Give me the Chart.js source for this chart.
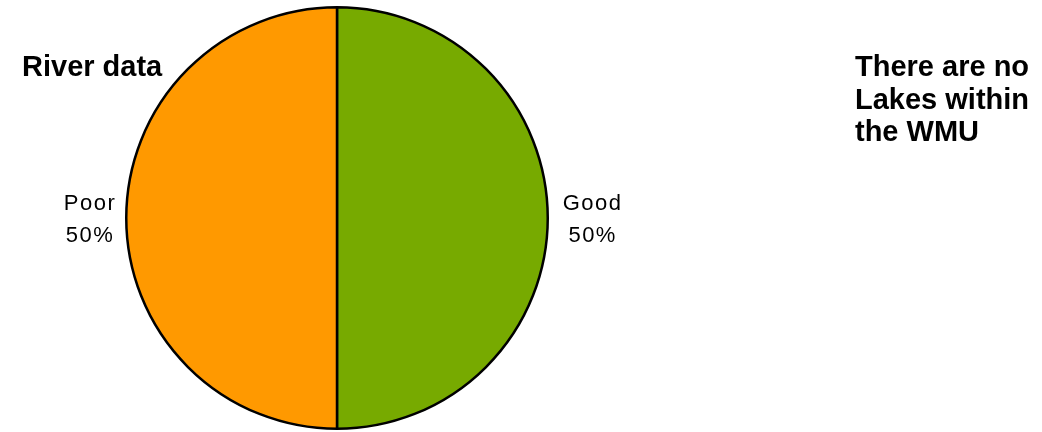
<!DOCTYPE html>
<html lang="en">
<head>
  <meta charset="UTF-8">
  <title>River data</title>
  <script src="https://cdn.jsdelivr.net/npm/chart.js"></script>
  <style>
    body {
      margin: 0;
      padding: 0;
      background: #ffffff;
      font-family: Arial, "Liberation Sans", sans-serif;
    }
    #wrap {
      position: relative;
      width: 1042px;
      height: 432px;
      overflow: hidden;
    }
    #pie {
      position: absolute;
      left: 0;
      top: 0;
    }
    .note {
      position: absolute;
      font-weight: bold;
      font-size: 29px;
      line-height: 32.5px;
      color: #000;
    }
    #title { left: 22px; top: 50px; }
    #lakes { left: 855px; top: 50px; }
  </style>
</head>
<body>
  <div id="wrap">
    <canvas id="pie" width="1042" height="432"></canvas>
    <div id="title" class="note">River data</div>
    <div id="lakes" class="note">There are no<br>Lakes within<br>the WMU</div>
  </div>

  <script>
    // chart data
    const categories = ['Good', 'Poor'];
    const shares = [50, 50];
    const sliceColors = ['#77AA00', '#FF9900'];

    // draws "Name / 50%" next to each slice, like the spreadsheet labels
    const sideLabels = {
      id: 'sideLabels',
      afterDatasetsDraw(chart) {
        const ctx = chart.ctx;
        const arcs = chart.getDatasetMeta(0).data;
        const total = shares.reduce((a, b) => a + b, 0);
        ctx.save();
        ctx.font = '22px Arial, "Liberation Sans", sans-serif';
        ctx.letterSpacing = '1.5px';
        ctx.fillStyle = '#000';
        ctx.textAlign = 'center';
        ctx.textBaseline = 'alphabetic';
        arcs.forEach((arc, i) => {
          const mid = (arc.startAngle + arc.endAngle) / 2;
          const lines = [categories[i], Math.round(shares[i] / total * 100) + '%'];
          const w = Math.max(...lines.map(t => ctx.measureText(t).width));
          const right = Math.cos(mid) >= 0;
          const gap = right ? 15 : 10;
          const cx = arc.x + Math.cos(mid) * (arc.outerRadius + gap + w / 2);
          const cy = arc.y + Math.sin(mid) * (arc.outerRadius + gap);
          ctx.fillText(lines[0], cx, cy - 8);
          ctx.fillText(lines[1], cx, cy + 24);
        });
        ctx.restore();
      }
    };

    new Chart(document.getElementById('pie'), {
      type: 'pie',
      data: {
        labels: categories,
        datasets: [{
          data: shares,
          backgroundColor: sliceColors,
          borderColor: '#000000',
          borderWidth: 2.5,
          borderAlign: 'center'
        }]
      },
      options: {
        responsive: false,
        animation: false,
        layout: {
          padding: { left: 125, right: 493, top: 6, bottom: 2 }
        },
        plugins: {
          legend: { display: false },
          tooltip: { enabled: false }
        }
      },
      plugins: [sideLabels]
    });
  </script>
</body>
</html>
